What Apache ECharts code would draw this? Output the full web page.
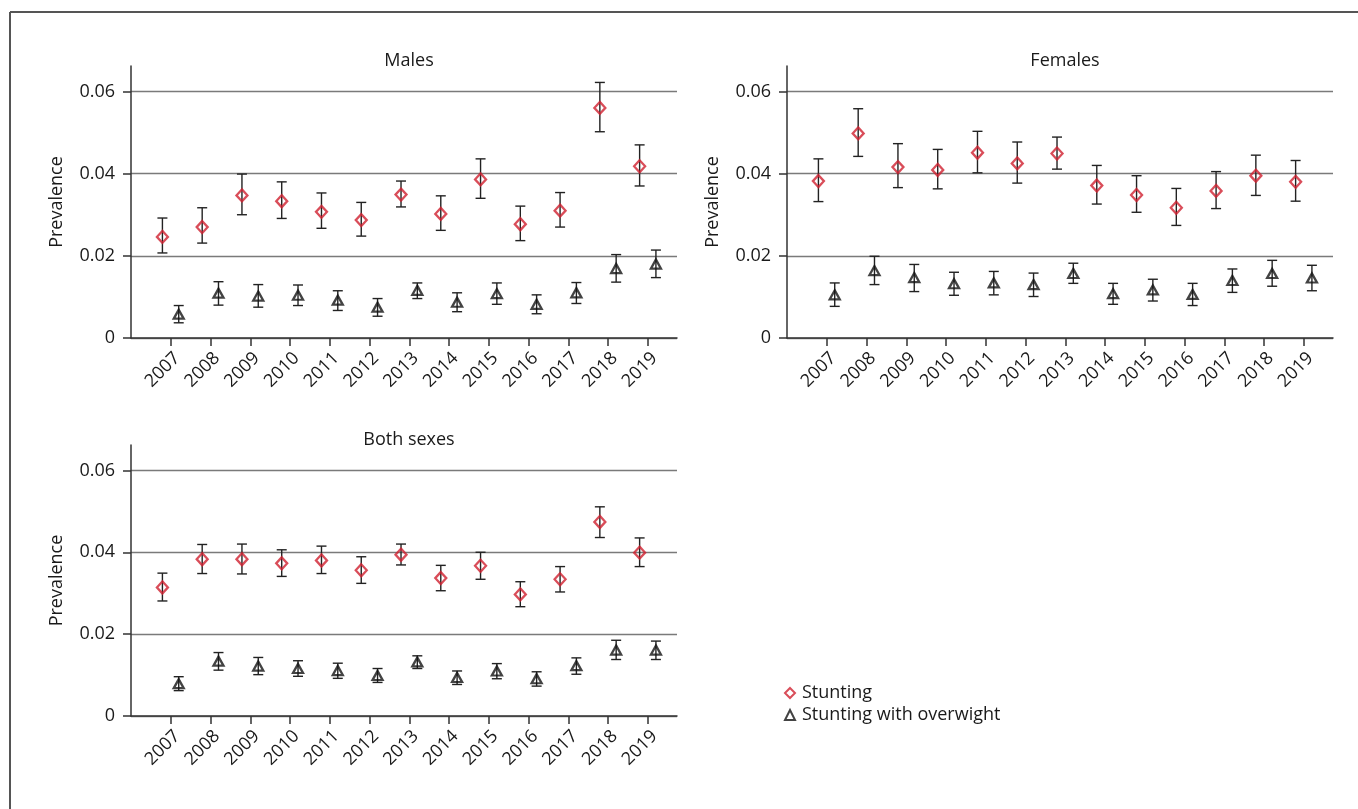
<!DOCTYPE html>
<html>
<head>
<meta charset="utf-8">
<script src="https://cdn.jsdelivr.net/npm/echarts@6/dist/echarts.min.js"></script>
<style>
html,body{margin:0;padding:0;background:#fff;}
#chart{width:1358px;height:809px;}
</style>
</head>
<body>
<div id="chart"></div>
<script>
// ---- data ----
const years = [2007, 2008, 2009, 2010, 2011, 2012, 2013, 2014, 2015, 2016, 2017, 2018, 2019];
const yTicks = [0, 0.02, 0.04, 0.06];
const panelTitles = ['Males', 'Females', 'Both sexes'];
const seriesNames = ['Stunting', 'Stunting with overwight'];

const malesStunting    = [0.0246, 0.0270, 0.0347, 0.0333, 0.0307, 0.0287, 0.0349, 0.0302, 0.0386, 0.0277, 0.0310, 0.0560, 0.0418];
const malesStuntingLo  = [0.0207, 0.0231, 0.0300, 0.0291, 0.0267, 0.0248, 0.0319, 0.0262, 0.0340, 0.0237, 0.0270, 0.0502, 0.0370];
const malesStuntingHi  = [0.0292, 0.0317, 0.0399, 0.0380, 0.0353, 0.0330, 0.0382, 0.0346, 0.0436, 0.0321, 0.0354, 0.0622, 0.0470];
const malesOver        = [0.0058, 0.0109, 0.0102, 0.0104, 0.0092, 0.0075, 0.0116, 0.0087, 0.0108, 0.0082, 0.0110, 0.0169, 0.0180];
const malesOverLo      = [0.0037, 0.0080, 0.0075, 0.0079, 0.0067, 0.0053, 0.0096, 0.0064, 0.0082, 0.0059, 0.0084, 0.0136, 0.0147];
const malesOverHi      = [0.0079, 0.0137, 0.0130, 0.0129, 0.0115, 0.0096, 0.0134, 0.0110, 0.0134, 0.0105, 0.0135, 0.0203, 0.0214];

const femalesStunting   = [0.0382, 0.0498, 0.0416, 0.0409, 0.0451, 0.0425, 0.0449, 0.0371, 0.0348, 0.0317, 0.0358, 0.0395, 0.0380];
const femalesStuntingLo = [0.0332, 0.0442, 0.0366, 0.0363, 0.0402, 0.0377, 0.0411, 0.0326, 0.0306, 0.0274, 0.0315, 0.0347, 0.0333];
const femalesStuntingHi = [0.0436, 0.0558, 0.0473, 0.0459, 0.0503, 0.0477, 0.0489, 0.0420, 0.0395, 0.0364, 0.0405, 0.0445, 0.0432];
const femalesOver       = [0.0105, 0.0164, 0.0147, 0.0132, 0.0134, 0.0130, 0.0157, 0.0108, 0.0117, 0.0106, 0.0140, 0.0157, 0.0146];
const femalesOverLo     = [0.0077, 0.0130, 0.0113, 0.0104, 0.0105, 0.0101, 0.0133, 0.0082, 0.0090, 0.0079, 0.0111, 0.0126, 0.0115];
const femalesOverHi     = [0.0134, 0.0199, 0.0179, 0.0160, 0.0162, 0.0158, 0.0182, 0.0133, 0.0143, 0.0133, 0.0168, 0.0189, 0.0177];

const bothStunting   = [0.0314, 0.0383, 0.0383, 0.0373, 0.0380, 0.0356, 0.0394, 0.0337, 0.0367, 0.0297, 0.0334, 0.0474, 0.0399];
const bothStuntingLo = [0.0281, 0.0348, 0.0347, 0.0341, 0.0348, 0.0324, 0.0369, 0.0306, 0.0334, 0.0267, 0.0303, 0.0436, 0.0365];
const bothStuntingHi = [0.0349, 0.0419, 0.0420, 0.0406, 0.0415, 0.0389, 0.0420, 0.0368, 0.0400, 0.0328, 0.0365, 0.0511, 0.0435];
const bothOver       = [0.0079, 0.0134, 0.0122, 0.0116, 0.0111, 0.0099, 0.0132, 0.0094, 0.0110, 0.0091, 0.0123, 0.0161, 0.0161];
const bothOverLo     = [0.0062, 0.0112, 0.0101, 0.0097, 0.0092, 0.0082, 0.0116, 0.0077, 0.0091, 0.0073, 0.0102, 0.0138, 0.0138];
const bothOverHi     = [0.0096, 0.0155, 0.0143, 0.0135, 0.0129, 0.0116, 0.0147, 0.0110, 0.0128, 0.0108, 0.0142, 0.0185, 0.0183];

// ---- styling / layout ----
const FONT = 'Open Sans';
const TXT = '#1a1a1a';
const RED = '#d0212f';
const BLK = '#141414';
const OFF_S = -0.21, OFF_O = 0.2;

const panels = [
  { s: malesStunting, sl: malesStuntingLo, sh: malesStuntingHi, o: malesOver, ol: malesOverLo, oh: malesOverHi },
  { s: femalesStunting, sl: femalesStuntingLo, sh: femalesStuntingHi, o: femalesOver, ol: femalesOverLo, oh: femalesOverHi },
  { s: bothStunting, sl: bothStuntingLo, sh: bothStuntingHi, o: bothOver, ol: bothOverLo, oh: bothOverHi }
];
const grids = [
  { left: 131, top: 66, width: 546, height: 272 },
  { left: 787, top: 66, width: 546, height: 272 },
  { left: 131, top: 445, width: 546, height: 271 }
];
const titlePos = [{ x: 404, y: 47 }, { x: 1060, y: 47 }, { x: 404, y: 426 }];

function errRender(params, api) {
  const x = api.value(0), lo = api.value(1), hi = api.value(2);
  const a = api.coord([x, hi]);
  const b = api.coord([x, lo]);
  const w = 5;
  const st = { stroke: '#222', lineWidth: 1.4 };
  return {
    type: 'group',
    children: [
      { type: 'line', shape: { x1: a[0], y1: a[1], x2: b[0], y2: b[1] }, style: st },
      { type: 'line', shape: { x1: a[0] - w, y1: a[1], x2: a[0] + w, y2: a[1] }, style: st },
      { type: 'line', shape: { x1: b[0] - w, y1: b[1], x2: b[0] + w, y2: b[1] }, style: st }
    ]
  };
}

const xAxes = [], yAxes = [], series = [], titles = [];
panels.forEach((p, i) => {
  xAxes.push({
    gridIndex: i, type: 'value', min: 2006, max: 2019.73,
    axisLine: { show: true, onZero: false, lineStyle: { color: '#333', width: 1.5 } },
    axisTick: { show: true, inside: false, length: 8, customValues: years, lineStyle: { color: '#333', width: 1.5 } },
    axisLabel: { customValues: years, rotate: 45, margin: 11, verticalAlign: 'top', fontFamily: FONT, fontSize: 18, color: TXT, formatter: v => String(v) },
    splitLine: { show: false }
  });
  yAxes.push({
    gridIndex: i, type: 'value', min: 0, max: 0.0662,
    name: 'Prevalence', nameLocation: 'middle', nameGap: 65,
    nameTextStyle: { fontFamily: FONT, fontSize: 18, color: TXT },
    axisLine: { show: true, lineStyle: { color: '#333', width: 1.5 } },
    axisTick: { show: true, inside: false, length: 8, customValues: yTicks, lineStyle: { color: '#333', width: 1.5 } },
    axisLabel: { customValues: yTicks, margin: 16, fontFamily: FONT, fontSize: 18, color: TXT, formatter: v => (v === 0 ? '0' : v.toFixed(2)) },
    splitLine: { show: true, lineStyle: { color: '#7a7a7a', width: 1.4 } }
  });
  titles.push({
    text: panelTitles[i], left: titlePos[i].x, top: titlePos[i].y, textAlign: 'center',
    textStyle: { fontFamily: FONT, fontSize: 18, fontWeight: 'normal', color: TXT }
  });
  series.push({
    type: 'custom', name: 'errS' + i, xAxisIndex: i, yAxisIndex: i, renderItem: errRender,
    encode: { x: 0, y: [1, 2] }, silent: true, z: 2,
    data: years.map((y, k) => [y + OFF_S, p.sl[k], p.sh[k]])
  });
  series.push({
    type: 'custom', name: 'errO' + i, xAxisIndex: i, yAxisIndex: i, renderItem: errRender,
    encode: { x: 0, y: [1, 2] }, silent: true, z: 2,
    data: years.map((y, k) => [y + OFF_O, p.ol[k], p.oh[k]])
  });
  series.push({
    type: 'scatter', name: seriesNames[0], xAxisIndex: i, yAxisIndex: i, z: 3,
    symbol: 'diamond', symbolSize: [11, 12],
    itemStyle: { color: 'rgba(255,255,255,0)', borderColor: RED, borderWidth: 2.3 },
    data: years.map((y, k) => [y + OFF_S, p.s[k]])
  });
  series.push({
    type: 'scatter', name: seriesNames[1], xAxisIndex: i, yAxisIndex: i, z: 3,
    symbol: 'triangle', symbolSize: [10, 9],
    itemStyle: { color: 'rgba(255,255,255,0)', borderColor: BLK, borderWidth: 2.3 },
    data: years.map((y, k) => [y + OFF_O, p.o[k]])
  });
});

const option = {
  backgroundColor: '#fff',
  animation: false,
  title: titles,
  grid: grids,
  xAxis: xAxes,
  yAxis: yAxes,
  legend: {
    data: seriesNames, orient: 'vertical', left: 779, top: 679, itemGap: 4,
    itemWidth: 10, itemHeight: 10,
    textStyle: { fontFamily: FONT, fontSize: 18, color: TXT, padding: [0, 0, 0, 2] }
  },
  graphic: [
    { type: 'line', shape: { x1: 10, y1: 12, x2: 1358, y2: 12 }, style: { stroke: '#555', lineWidth: 2 } },
    { type: 'line', shape: { x1: 10, y1: 12, x2: 10, y2: 809 }, style: { stroke: '#555', lineWidth: 2 } }
  ],
  series: series
};

const chart = echarts.init(document.getElementById('chart'), null, { renderer: 'canvas' });
chart.setOption(option);
</script>
</body>
</html>
